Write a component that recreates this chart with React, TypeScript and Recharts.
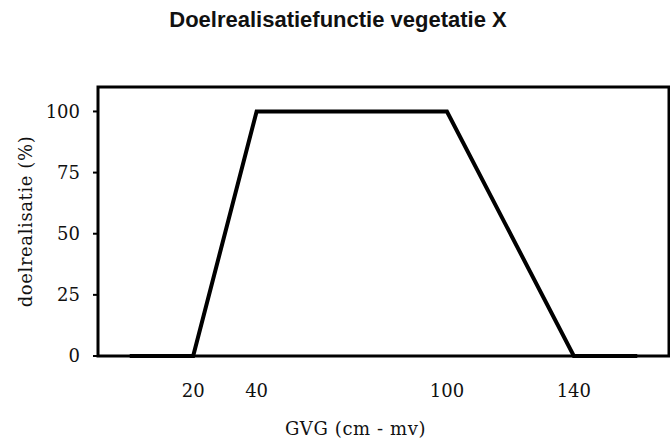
import { LineChart, Line, XAxis, YAxis, ReferenceArea, Label } from "recharts";

// GVG (cm - mv) vs doelrealisatie (%)
const gvg = [0, 20, 40, 100, 140, 160];
const realisatie = [0, 0, 100, 100, 0, 0];
const xTicks = [20, 40, 100, 140];
const yTicks = [0, 25, 50, 75, 100];

const data = gvg.map((x, i) => ({ x, y: realisatie[i] }));

const serif = "'DejaVu Serif', serif";
const tickStyle = { fill: "#111", fontSize: 18, fontFamily: serif };

function AxisTitle(props: any) {
  const { viewBox, text, shiftX = 0, shiftY = 0, rot = 0 } = props;
  const cx = viewBox.x + viewBox.width / 2 + shiftX;
  const cy = viewBox.y + viewBox.height / 2 + shiftY;
  return (
    <text
      x={cx}
      y={cy}
      textAnchor="middle"
      dominantBaseline="central"
      transform={rot ? `rotate(${rot} ${cx} ${cy})` : undefined}
      fill="#111"
      fontSize={18}
      fontFamily={serif}
      letterSpacing={0.6}
    >
      {text}
    </text>
  );
}

export default function App() {
  return (
    <div style={{ position: "fixed", left: 0, top: 0, width: 670, height: 439, background: "#fff" }}>
      <div
        style={{
          position: "absolute",
          left: 3,
          top: 7,
          width: 670,
          textAlign: "center",
          fontFamily: "'Liberation Sans', Arial, sans-serif",
          fontWeight: "bold",
          fontSize: 22,
          color: "#111",
        }}
      >
        Doelrealisatiefunctie vegetatie X
      </div>
      <LineChart
        width={670}
        height={439}
        data={data}
        margin={{ top: 87, right: 1, left: 0, bottom: 0 }}
      >
        <XAxis
          type="number"
          dataKey="x"
          domain={[-10, 170]}
          ticks={xTicks}
          interval={0}
          axisLine={false}
          tickLine={false}
          tickSize={0}
          tickMargin={28}
          height={83}
          tick={tickStyle}
        >
          <Label content={<AxisTitle text="GVG (cm - mv)" shiftX={-28} shiftY={31} />} />
        </XAxis>
        <YAxis
          type="number"
          domain={[0, 110]}
          ticks={yTicks}
          interval={0}
          width={98}
          axisLine={false}
          tickLine={{ stroke: "#000", strokeWidth: 2 }}
          tickSize={5}
          tickMargin={13}
          tick={tickStyle}
        >
          <Label content={<AxisTitle text="doelrealisatie (%)" shiftX={-24} rot={-90} />} />
        </YAxis>
        <ReferenceArea
          x1={-10}
          x2={170}
          y1={0}
          y2={110}
          fill="none"
          fillOpacity={0}
          stroke="#000"
          strokeWidth={3}
          ifOverflow="visible"
        />
        <Line
          type="linear"
          dataKey="y"
          stroke="#000"
          strokeWidth={4}
          dot={false}
          activeDot={false}
          isAnimationActive={false}
        />
      </LineChart>
    </div>
  );
}
